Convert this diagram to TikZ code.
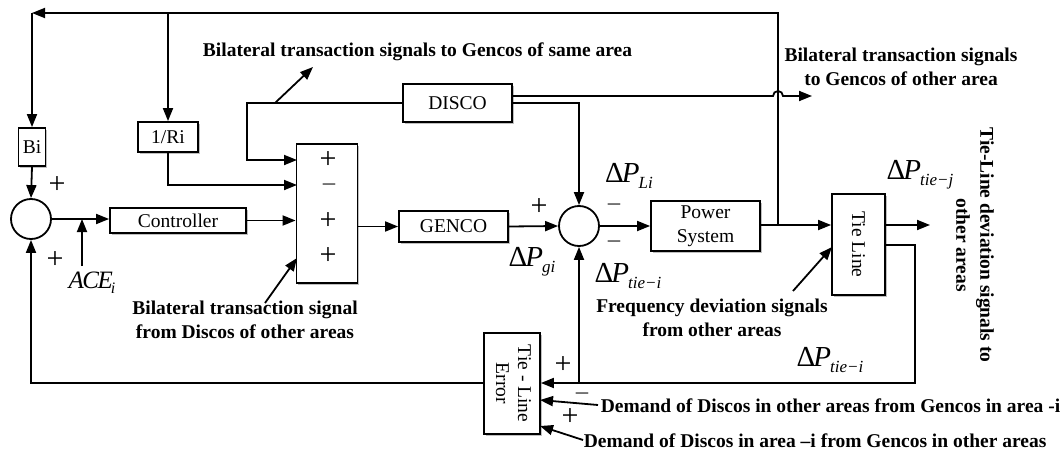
\documentclass[tikz,border=0pt]{standalone}
\usepackage{fontspec}
\setmainfont{Liberation Serif}
\usetikzlibrary{arrows.meta,shadows,calc}
\newcommand{\dPx}[1]{{\fontsize{29}{29}\selectfont Δ\kern-2pt\textit{P}\kern-1pt\raisebox{-6pt}{\fontsize{17}{17}\selectfont\textit{#1}}}}
\newcommand{\thinminus}{\scalebox{1.8}[1]{\fontsize{15}{15}\selectfont\bfseries −}}
\begin{document}
\begin{tikzpicture}[x=1pt,y=-1pt,line width=1.8pt,
  box/.style={draw, fill=white, inner sep=0pt, font=\fontsize{19.5}{24}\selectfont, align=center,
    drop shadow={shadow xshift=1.5pt, shadow yshift=-1.5pt, fill=black!25, opacity=1}},
  sumc/.style={draw, circle, minimum size=40pt, inner sep=0pt},
  arr/.style={-{Triangle[length=13pt,width=10pt]}},
  lbl/.style={font=\fontsize{19.5}{24}\selectfont\bfseries, align=center, inner sep=0pt},
  sgn/.style={font=\fontsize{30}{30}\selectfont, inner sep=0pt},
  ml/.style={inner sep=0pt},
]
\useasboundingbox (0,0) rectangle (1062,452);

% blocks
\node[box, minimum width=27pt, minimum height=38pt] (bi) at (32,147) {Bi};
\node[box, minimum width=60pt, minimum height=30pt] (ri) at (168,137) {1/Ri};
\node[sumc] (s1) at (31,219) {};
\node[box, minimum width=136pt, minimum height=25pt] (ctrl) at (178,220.5) {Controller};
\node[box, minimum width=61pt, minimum height=139pt] (sumbox) at (327,213.5) {};
\node[box, minimum width=109pt, minimum height=38pt] (disco) at (457.5,103) {DISCO};
\node[box, minimum width=109pt, minimum height=31pt] (genco) at (453.5,226.5) {GENCO};
\node[sumc] (s2) at (579,226) {};
\node[box, minimum width=109pt, minimum height=50pt] (ps) at (705.5,226) {Power\\System};
\node[box, minimum width=53pt, minimum height=101pt] (tl) at (858.5,244.5) {\rotatebox{-90}{Tie Line}};
\node[box, minimum width=56pt, minimum height=101pt] (tle) at (512,383.5) {\rotatebox{-90}{\begin{tabular}{@{}c@{}}Tie - Line\\[-2pt] Error\end{tabular}}};

% coordinates
\coordinate (brk) at (778,225);
\coordinate (tr) at (778,13);
\coordinate (tlc) at (32,13);
\coordinate (rtop) at (168,13);
\coordinate (in1) at (297,160);
\coordinate (in2) at (297,185);
\coordinate (dcor) at (247,103);
\coordinate (dbr) at (275,103);
\coordinate (dtip) at (313,67);
\coordinate (ace0) at (82,266);
\coordinate (bo0) at (265,303);
\coordinate (bo1) at (297,258);
\coordinate (fq0) at (793,291);
\coordinate (fq1) at (832,247);
\coordinate (to1) at (930,225);
\coordinate (tlr) at (915,245);
\coordinate (tlb) at (915,383);
\coordinate (dm1a) at (598,405);
\coordinate (dm1b) at (540,400);
\coordinate (dm2a) at (583,440);
\coordinate (dm2b) at (540,426);
\coordinate (jmp) at (773,96);
\coordinate (dout) at (812,96);

% connectors
\draw[arr] (brk) -- (tr) -- (tlc);
\draw[arr] (tlc) -- (bi.north);
\draw[arr] (rtop) -- (ri.north);
\draw[arr] (bi.south) -- (s1.north);
\draw[arr] (s1.east) -- (ctrl.west |- s1.east);
\draw[arr] (ace0) -- (ace0 |- s1.east);
\draw[arr] (ctrl.east) -- (ctrl.east -| sumbox.west);
\draw[arr] (ri.south) |- (in2);
\draw[arr] (disco.west) -- (dcor) |- (in1);
\draw[arr] (dbr) -- (dtip);
\draw[arr] ($(disco.east)+(0,-7)$) -- (jmp) arc[start angle=180, end angle=0, radius=5pt] -- (dout);
\draw[arr] (disco.east) -| (s2.north);
\draw[arr] (sumbox.east |- genco.west) -- (genco.west);
\draw[arr] (genco.east) -- (s2.west);
\draw[arr] (s2.east) -- (ps.west);
\draw[arr] (ps.east |- brk) -- (tl.west |- brk);
\draw[arr] (tl.east |- to1) -- (to1);
\draw[arr] (fq0) -- (fq1);
\draw[arr] (tl.east |- tlr) -- (tlr) -- (tlb) -- (tle.east |- tlb);
\draw[arr] (s2.south |- tlb) -- (s2.south);
\draw[arr] (tle.west |- tlb) -| (s1.south);
\draw[arr] (bo0) -- (bo1);
\draw[arr] (dm1a) -- (dm1b);
\draw[arr] (dm2a) -- (dm2b);

% signs
\node[sgn] (p1) at (57,185) {+};
\node[sgn] (p2) at (55,260) {+};
\node[sgn] (b1) at (328,160) {+};
\node[ml] (b2) at (329,187) {\thinminus};
\node[sgn] (b3) at (328,221) {+};
\node[sgn] (b4) at (328,256) {+};
\node[sgn] (c1) at (539,207) {+};
\node[ml] (c2) at (614,207) {\thinminus};
\node[ml] (c3) at (614,244) {\thinminus};
\node[sgn] (e1) at (563,365) {+};
\node[ml] (e2) at (582,396) {\thinminus};
\node[sgn] (e3) at (570,417) {+};

% math labels
\node[ml] (dpli) at (629,176) {\dPx{Li}};
\node[ml] (dpgi) at (532,262) {\dPx{gi}};
\node[ml] (dpti) at (628,276) {\dPx{tie−i}};
\node[ml] (dptj) at (920,175) {\dPx{tie−j}};
\node[ml] (dpti2) at (830,360) {\dPx{tie−i}};
\node[ml] (ace) at (92,283) {\fontsize{25}{25}\selectfont\textit{A\kern-1.5pt C\kern-1.5pt E}\kern-2pt\raisebox{-5pt}{\fontsize{16}{16}\selectfont\textit{i}}};

% text labels
\node[lbl] (t1) at (417.5,52) {Bilateral transaction signals to Gencos of same area};
\node[lbl] (t2) at (901,67) {Bilateral transaction signals\\to Gencos of other area};
\node[lbl] (t3) at (245,320) {Bilateral transaction signal\\from Discos of other areas};
\node[lbl] (t4) at (712,318) {Frequency deviation signals\\from other areas};
\node[lbl, rotate=-90] (t5) at (975,245) {Tie-Line deviation signals to\\other areas};
\node[lbl, anchor=west] (t6) at (600,406) {Demand of Discos in other areas from Gencos in area -i};
\node[lbl, anchor=west] (t7) at (583,441) {Demand of Discos in area –i from Gencos in other areas};
\end{tikzpicture}
\end{document}
